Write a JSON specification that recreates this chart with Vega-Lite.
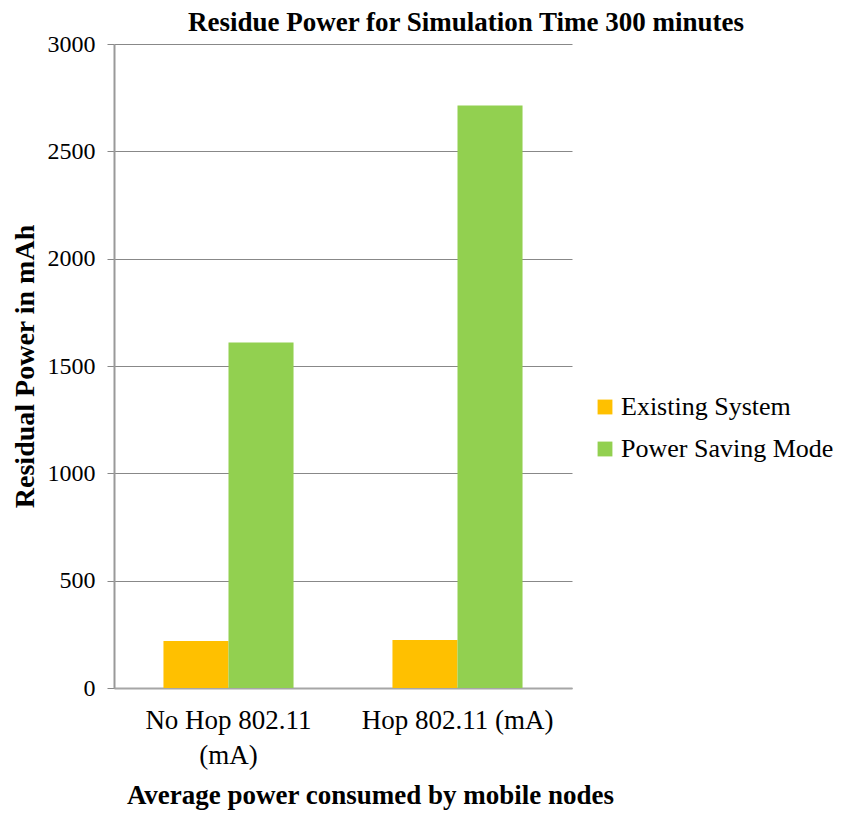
{
  "$schema": "https://vega.github.io/schema/vega-lite/v6.json",
  "autosize": "none",
  "padding": {"left": 114, "top": 44, "right": 276, "bottom": 130},
  "width": 458,
  "height": 644,
  "background": "white",
  "title": {
    "text": "Residue Power for Simulation Time 300 minutes",
    "font": "Liberation Serif",
    "fontSize": 27,
    "fontWeight": "bold",
    "color": "black",
    "anchor": "middle",
    "dx": 123,
    "dy": 10,
    "offset": 5
  },
  "data": {
    "values": [
      {"category": "No Hop 802.11 (mA)", "series": "Existing System", "value": 219},
      {"category": "No Hop 802.11 (mA)", "series": "Power Saving Mode", "value": 1610},
      {"category": "Hop 802.11 (mA)", "series": "Existing System", "value": 224},
      {"category": "Hop 802.11 (mA)", "series": "Power Saving Mode", "value": 2713}
    ]
  },
  "mark": {"type": "bar"},
  "encoding": {
    "x": {
      "field": "category",
      "type": "nominal",
      "sort": ["No Hop 802.11 (mA)", "Hop 802.11 (mA)"],
      "scale": {"paddingInner": 0.432, "paddingOuter": 0.216},
      "axis": {
        "title": "Average power consumed by mobile nodes",
        "titleFont": "Liberation Serif",
        "titleFontSize": 27,
        "titleFontWeight": "bold",
        "titleColor": "black",
        "titlePadding": 14,
        "titleX": 256,
        "labelAngle": 0,
        "labelFont": "Liberation Serif",
        "labelFontSize": 27,
        "labelColor": "black",
        "labelPadding": 19,
        "labelLineHeight": 35,
        "labelLimit": 400,
        "labelExpr": "datum.label == 'No Hop 802.11 (mA)' ? ['No Hop 802.11', '(mA)'] : datum.label",
        "ticks": false,
        "domainColor": "#a6a6a6",
        "domainWidth": 2,
        "grid": false
      }
    },
    "xOffset": {"field": "series", "type": "nominal", "sort": ["Existing System", "Power Saving Mode"]},
    "y": {
      "field": "value",
      "type": "quantitative",
      "scale": {"domain": [0, 3000], "nice": false},
      "axis": {
        "title": "Residual Power in mAh",
        "titleFont": "Liberation Serif",
        "titleFontSize": 28,
        "titleFontWeight": "bold",
        "titleColor": "black",
        "titlePadding": 8,
        "values": [0, 500, 1000, 1500, 2000, 2500, 3000],
        "format": "d",
        "labelFont": "Liberation Serif",
        "labelFontSize": 24,
        "labelColor": "black",
        "labelPadding": 12,
        "tickSize": 7,
        "tickColor": "#888888",
        "domainColor": "#999999",
        "domainWidth": 2,
        "grid": true,
        "gridColor": "#888888",
        "gridWidth": 1
      }
    },
    "color": {
      "field": "series",
      "type": "nominal",
      "sort": ["Existing System", "Power Saving Mode"],
      "scale": {"domain": ["Existing System", "Power Saving Mode"], "range": ["#FFC000", "#92D050"]},
      "legend": {
        "title": null,
        "orient": "none",
        "legendX": 478,
        "legendY": 350,
        "symbolType": "square",
        "symbolSize": 220,
        "symbolStrokeWidth": 0,
        "labelFont": "Liberation Serif",
        "labelFontSize": 26,
        "labelColor": "black",
        "labelLimit": 400,
        "rowPadding": 16,
        "labelOffset": 3
      }
    }
  },
  "config": {"view": {"stroke": null}}
}
